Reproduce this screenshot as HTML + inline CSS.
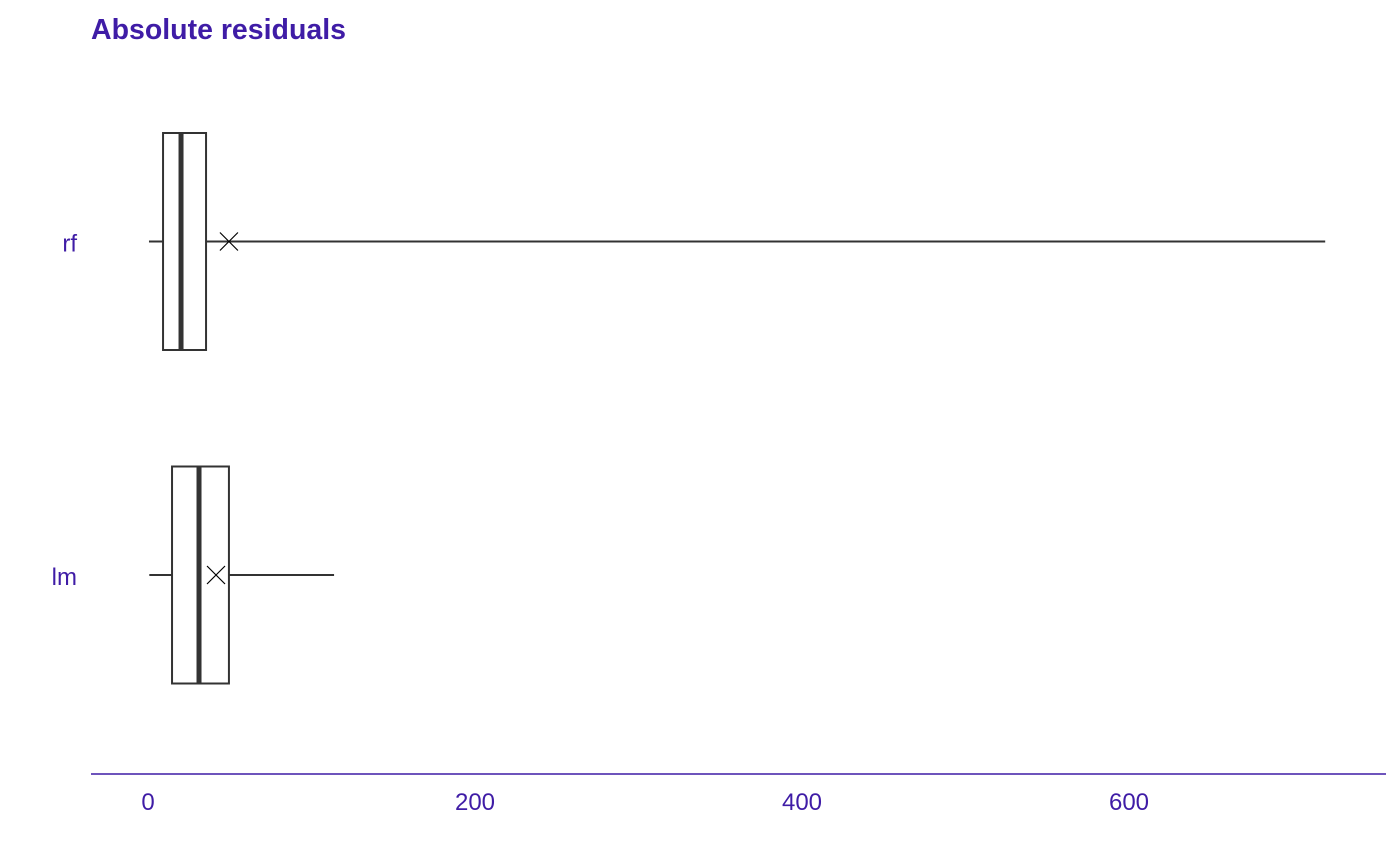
<!DOCTYPE html>
<html><head><meta charset="utf-8"><style>
body{margin:0;background:#fff;}
svg{display:block;font-family:"Liberation Sans",Arial,sans-serif;}
</style></head><body>
<svg id="chart" width="1400" height="865">
<text x="91" y="39" font-size="28.5" font-weight="bold" fill="#3f1ca6">Absolute residuals</text>
<line x1="91" y1="774" x2="1386" y2="774" stroke="#3f1ca6" stroke-width="1.5"/>
<g id="marks"></g>
</svg>
<script>
const categories = ["rf", "lm"];
const mins = [0.6, 0.8];
const q1s = [9.2, 14.7];
const medians = [20.2, 31.2];
const q3s = [35.5, 49.5];
const maxs = [720, 113.8];
const means = [49.5, 41.6];
const ticks = [0, 200, 400, 600];

const g = document.getElementById('marks');
const NS = 'http://www.w3.org/2000/svg';
const xs = v => 148 + v * 1.635;
const ys = i => [241.5, 575][i];
const halfH = 108.5;

function el(tag, attrs) {
  const e = document.createElementNS(NS, tag);
  for (const k in attrs) e.setAttribute(k, attrs[k]);
  g.appendChild(e);
  return e;
}

ticks.forEach(t => {
  const e = el('text', {x: xs(t), y: 810, 'font-size': 24, fill: '#3f1ca6', 'text-anchor': 'middle'});
  e.textContent = t;
  
  
});

categories.forEach((c, i) => {
  const y = ys(i);
  const lab = el('text', {x: 77, y: y + 10, 'font-size': 24, fill: '#3f1ca6', 'text-anchor': 'end'});
  lab.textContent = c;
  
  

  const w1 = el('line', {x1: xs(mins[i]), x2: xs(q1s[i]), y1: y, y2: y, stroke: '#333', 'stroke-width': 2});
  
  
  const w2 = el('line', {x1: xs(q3s[i]), x2: xs(maxs[i]), y1: y, y2: y, stroke: '#333', 'stroke-width': 2});
  
  

  const box = el('rect', {x: xs(q1s[i]), y: y - halfH, width: xs(q3s[i]) - xs(q1s[i]), height: 2 * halfH, fill: 'none', stroke: '#333', 'stroke-width': 2});
  
  

  const med = el('line', {x1: xs(medians[i]), x2: xs(medians[i]), y1: y - halfH, y2: y + halfH, stroke: '#333', 'stroke-width': 5});
  
  

  const mx = xs(means[i]), s = 9;
  const m = el('path', {d: `M${mx - s},${y - s}L${mx + s},${y + s}M${mx - s},${y + s}L${mx + s},${y - s}`, stroke: '#000', 'stroke-width': 1.2, fill: 'none'});
  
  
});
</script>
</body></html>
